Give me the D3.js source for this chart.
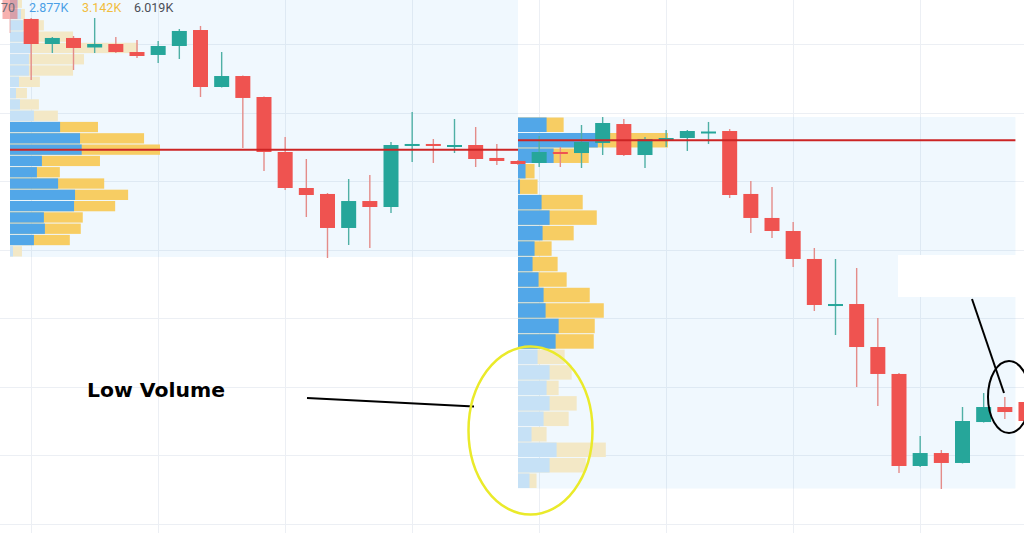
<!DOCTYPE html>
<html><head><meta charset="utf-8">
<script src="https://cdn.jsdelivr.net/npm/d3@7"></script>
<style>html,body{margin:0;padding:0;background:#fff;overflow:hidden}</style>
</head><body><svg id="c" width="1024" height="533"></svg>
<script>
// ---- data ----
const openP  = [177.15,173.65,170.00,170.88,169.49,170.00,168.83,168.40,169.71,172.04,163.73,165.33,162.27,154.25,149.00,148.13,143.17,147.10,146.23,155.13,155.42,155.05,155.27,153.38,152.94,152.65,154.25,154.10,155.56,158.33,153.81,156.15,156.29,157.09,157.31,148.13,144.63,142.73,138.65,131.94,132.08,125.81,121.88,108.46,110.35,108.90,114.87,117.06,117.79];
const highP  = [177.87,173.79,171.02,171.17,173.79,171.02,170.58,170.44,172.19,172.63,168.83,165.41,162.34,156.44,153.23,148.27,150.31,150.90,155.71,160.08,156.15,159.06,157.90,155.42,153.08,156.58,154.98,158.19,159.35,159.06,156.44,157.46,157.46,158.63,157.60,150.02,149.15,144.04,140.25,138.65,137.33,130.04,122.02,112.83,110.79,117.06,119.10,118.52,118.38];
const lowP   = [171.60,164.75,168.69,166.21,168.69,168.69,167.96,167.23,167.81,162.27,163.66,154.83,151.48,148.71,144.77,138.79,140.69,140.25,145.35,152.79,152.65,154.10,152.06,152.35,152.35,152.06,152.06,151.92,153.81,153.67,151.92,154.98,154.40,155.42,147.54,142.44,141.71,137.48,131.06,127.56,119.98,117.21,107.44,108.31,105.10,108.83,114.80,115.31,114.58];
const closeP = [173.65,170.00,170.88,169.42,170.00,168.83,168.25,169.71,171.90,163.73,165.33,162.13,154.25,149.00,147.98,143.17,147.10,146.23,155.27,155.42,155.13,155.27,153.23,152.94,152.50,154.25,153.96,155.71,158.48,153.81,156.15,156.29,157.31,157.24,147.98,144.63,142.73,138.65,131.94,132.08,125.81,121.88,108.46,110.35,108.90,115.02,117.06,116.33,115.02];
const fadedCandles = [0];

const priceTicks = [100,110,120,130,140,150,160,170];
const timeTicks  = [1,7,13,19,25,31,37,43];

// volume profile of session 1 (rows bottom -> top), in K
const leftUp   = [0.12,0.96,1.40,1.36,2.57,2.61,1.93,1.08,1.28,2.877,2.81,2.01,0.96,0.40,0.24,0.36,0.76,0.76,0.84,0.88,0.52,0.44,0.32];
const leftDown = [0.36,1.44,1.44,1.56,1.65,2.13,1.85,0.92,2.33,3.142,2.57,1.52,0.96,0.76,0.44,0.84,1.77,2.21,4.29,1.65,0.84,0.16,0.16];
const leftRange = [138.94,176.84];
const leftVA = [1,11];
// volume profile of session 2 (rows bottom -> top), in K
const rightUp   = [0.46,1.26,1.54,0.54,1.02,1.26,1.14,1.26,0.78,1.50,1.62,1.10,1.02,0.82,0.58,0.66,0.98,1.26,0.94,0.08,0.30,1.42,3.18,1.14];
const rightDown = [0.28,1.44,1.96,0.60,1.00,1.08,0.48,0.88,1.08,1.52,1.44,2.32,1.84,1.12,1.00,0.68,1.24,1.88,1.64,0.70,0.36,1.40,2.80,0.68];
const rightRange = [105.18,159.35];
const rightVA = [9,23];
const sessionBounds = [[0,24],[24,47.5]];

const legendLabels = ["70","2.877K","3.142K","6.019K"];
const noteText = "Low Volume";

// ---- drawing ----
const W = 1024, H = 533;
const svg = d3.select("#c");
const x = d3.scaleLinear().domain([0,48]).range([10,1026]);
const y = d3.scaleLinear().domain([100,170]).range([524,44]);

svg.append("rect").attr("width",W).attr("height",H).attr("fill","#fff");

const grid = svg.append("g").attr("stroke","#eceff4").attr("stroke-width",1);
grid.selectAll(".h").data(priceTicks).join("line")
  .attr("x1",0).attr("x2",W).attr("y1",d=>Math.round(y(d))+0.5).attr("y2",d=>Math.round(y(d))+0.5);
grid.selectAll(".v").data(timeTicks).join("line")
  .attr("y1",0).attr("y2",H).attr("x1",d=>Math.round(x(d))+0.5).attr("x2",d=>Math.round(x(d))+0.5);

const COL = {up:"#52a7e8", down:"#f7cd63", upF:"#c6e1f6", downF:"#f3e8c6"};

function profile(up, down, range, va, bounds){
  const n = up.length;
  const step = (range[1]-range[0])/n;
  const tot = up.map((u,i)=>u+down[i]);
  const w = d3.scaleLinear().domain([0,d3.max(tot)]).range([0,150]);
  const x0 = x(bounds[0]);
  const g = svg.append("g");
  g.append("rect").attr("x",x0).attr("width",x(bounds[1])-x0)
    .attr("y",y(range[1])).attr("height",y(range[0])-y(range[1]))
    .attr("fill","rgba(33,150,243,0.065)");
  const rows = d3.range(n).map(k=>({k, up:up[k], tot:tot[k],
      top:y(range[0]+(k+1)*step), bot:y(range[0]+k*step), inVA:k>=va[0]&&k<=va[1]}));
  g.selectAll(".d").data(rows).join("rect")
    .attr("x",x0).attr("width",d=>w(d.tot))
    .attr("y",d=>d.top+0.5).attr("height",d=>d.bot-d.top-1)
    .attr("fill",d=>d.inVA?COL.down:COL.downF);
  g.selectAll(".u").data(rows).join("rect")
    .attr("x",x0).attr("width",d=>w(d.up))
    .attr("y",d=>d.top+0.5).attr("height",d=>d.bot-d.top-1)
    .attr("fill",d=>d.inVA?COL.up:COL.upF);
  const poc = d3.maxIndex(tot);
  return {y:y(range[0]+(poc+0.5)*step), x0, x1:x(bounds[1])};
}
const p1 = profile(leftUp,leftDown,leftRange,leftVA,sessionBounds[0]);
const p2 = profile(rightUp,rightDown,rightRange,rightVA,sessionBounds[1]);

// candles
const candles = d3.range(openP.length).map(i=>({i,o:openP[i],h:highP[i],l:lowP[i],c:closeP[i]}));
const cg = svg.append("g");
const cand = cg.selectAll("g").data(candles).join("g")
  .attr("opacity",d=>fadedCandles.includes(d.i)?0.45:1);
cand.append("line")
  .attr("x1",d=>x(d.i)).attr("x2",d=>x(d.i))
  .attr("y1",d=>y(d.h)).attr("y2",d=>y(d.l))
  .attr("stroke",d=>d.c>=d.o?"#4fb0a5":"#e48c89").attr("stroke-width",1.4);
cand.append("rect")
  .attr("x",d=>x(d.i)-7.5).attr("width",15)
  .attr("y",d=>y(Math.max(d.o,d.c)))
  .attr("height",d=>Math.max(2,Math.abs(y(d.o)-y(d.c))))
  .attr("fill",d=>d.c>=d.o?"#26a69a":"#ef5350");

// POC lines
[p1,p2].forEach(p=>{
  svg.append("line").attr("x1",p.x0).attr("x2",p.x1).attr("y1",p.y).attr("y2",p.y)
    .attr("stroke","#cc2424").attr("stroke-width",2);
});

// annotations
svg.append("rect").attr("x",898).attr("y",255).attr("width",126).attr("height",42).attr("fill","#fff");
svg.append("text").attr("x",87).attr("y",397).text(noteText)
  .attr("font-family","DejaVu Sans, sans-serif").attr("font-weight","bold").attr("font-size",20)
  .attr("textLength",138).attr("lengthAdjust","spacingAndGlyphs")
  .attr("fill","#000");
svg.append("line").attr("x1",307).attr("y1",398).attr("x2",474).attr("y2",406.5)
  .attr("stroke","#000").attr("stroke-width",2);
svg.append("ellipse").attr("cx",530.5).attr("cy",430.5).attr("rx",62).attr("ry",84)
  .attr("fill","none").attr("stroke","#eaea2a").attr("stroke-width",2.5);
svg.append("line").attr("x1",972).attr("y1",299).attr("x2",1004).attr("y2",393)
  .attr("stroke","#000").attr("stroke-width",2);
svg.append("ellipse").attr("cx",1009).attr("cy",397).attr("rx",21).attr("ry",36)
  .attr("fill","none").attr("stroke","#000").attr("stroke-width",2);

// legend
const legCols = ["#6a6d78","#4a9fe6","#f2bd3c","#4a4d57"];
const legX = [1,29,82,134];
svg.append("g").selectAll("text").data(legendLabels).join("text")
  .attr("x",(d,i)=>legX[i]).attr("y",12).text(d=>d)
  .attr("font-family","Roboto, sans-serif").attr("font-size",12.5)
  .attr("fill",(d,i)=>legCols[i]);
</script></body></html>
